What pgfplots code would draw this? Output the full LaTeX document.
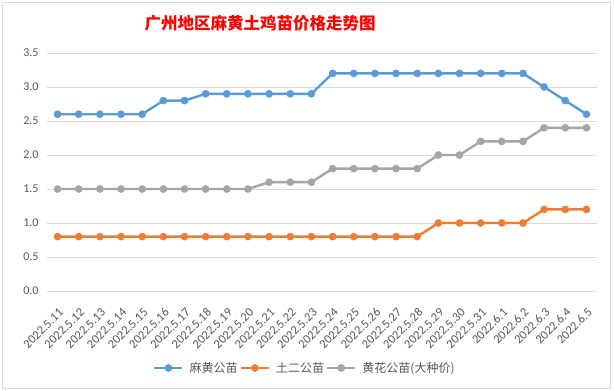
\documentclass[border=0pt]{standalone}
\usepackage{pgfplots}
\pgfplotsset{compat=1.18}
\usepackage{fontspec}
\setmainfont{Carlito}
\newfontfamily\cjk{Noto Sans CJK SC}
\definecolor{cblue}{HTML}{5B9BD5}
\definecolor{corange}{HTML}{ED7D31}
\definecolor{cgray}{HTML}{A5A5A5}
\definecolor{txt}{HTML}{595959}
\definecolor{gridc}{HTML}{D9D9D9}
\begin{document}
\begin{tikzpicture}[x=1pt,y=1pt]
\fill[white] (0,0) rectangle (614,391);
\draw[gridc] (2.5,2.5) rectangle (610.5,388.5);
\begin{axis}[
  at={(47pt,100pt)}, anchor=south west,
  scale only axis, width=550pt, height=238pt,
  xmin=-0.5, xmax=25.5, ymin=0, ymax=3.5,
  ytick={0,0.5,1,1.5,2,2.5,3,3.5},
  yticklabel style={/pgf/number format/.cd, fixed, fixed zerofill, precision=1, /tikz/.cd, text=txt, font=\fontsize{12}{14}\selectfont, xshift=-5pt},
  /pgf/number format/assume math mode=true,
  xtick={0,...,25},
  xticklabels={2022.5.11,2022.5.12,2022.5.13,2022.5.14,2022.5.15,2022.5.16,2022.5.17,2022.5.18,2022.5.19,2022.5.20,2022.5.21,2022.5.22,2022.5.23,2022.5.24,2022.5.25,2022.5.26,2022.5.27,2022.5.28,2022.5.29,2022.5.30,2022.5.31,2022.6.1,2022.6.2,2022.6.3,2022.6.4,2022.6.5},
  xticklabel style={xshift=6pt, yshift=-17pt, rotate=45, anchor=east, text=txt, font=\fontsize{12.5}{14}\selectfont},
  ymajorgrids, major grid style={gridc, line width=0.8pt},
  axis line style={draw=none},
  axis x line*=bottom,
  x axis line style={draw=gridc, line width=0.8pt},
  axis y line*=left,
  tick style={draw=none},
  legend columns=3,
  legend style={at={(0.469,-0.3235)}, anchor=center, draw=none, fill=none, font=\cjk\fontsize{12}{14}\selectfont, text=txt,
    /tikz/every odd column/.append style={column sep=4pt}},
  legend image code/.code={\draw[mark repeat=2, mark phase=2] plot coordinates {(0pt,0pt)(14pt,0pt)(28pt,0pt)};},
]
\addplot[cblue, line width=2.4pt, mark=*, mark size=3.6pt, mark options={solid, fill=cblue, draw=cblue, line width=0.4pt}] coordinates {
(0,2.6)(1,2.6)(2,2.6)(3,2.6)(4,2.6)(5,2.8)(6,2.8)(7,2.9)(8,2.9)(9,2.9)(10,2.9)(11,2.9)(12,2.9)
(13,3.2)(14,3.2)(15,3.2)(16,3.2)(17,3.2)(18,3.2)(19,3.2)(20,3.2)(21,3.2)(22,3.2)(23,3.0)(24,2.8)(25,2.6)};
\addlegendentry{麻黄公苗}
\addplot[corange, line width=2.4pt, mark=*, mark size=3.6pt, mark options={solid, fill=corange, draw=corange, line width=0.4pt}] coordinates {
(0,0.8)(1,0.8)(2,0.8)(3,0.8)(4,0.8)(5,0.8)(6,0.8)(7,0.8)(8,0.8)(9,0.8)(10,0.8)(11,0.8)(12,0.8)
(13,0.8)(14,0.8)(15,0.8)(16,0.8)(17,0.8)(18,1.0)(19,1.0)(20,1.0)(21,1.0)(22,1.0)(23,1.2)(24,1.2)(25,1.2)};
\addlegendentry{土二公苗}
\addplot[cgray, line width=2.4pt, mark=*, mark size=3.6pt, mark options={solid, fill=cgray, draw=cgray, line width=0.4pt}] coordinates {
(0,1.5)(1,1.5)(2,1.5)(3,1.5)(4,1.5)(5,1.5)(6,1.5)(7,1.5)(8,1.5)(9,1.5)(10,1.6)(11,1.6)(12,1.6)
(13,1.8)(14,1.8)(15,1.8)(16,1.8)(17,1.8)(18,2.0)(19,2.0)(20,2.2)(21,2.2)(22,2.2)(23,2.4)(24,2.4)(25,2.4)};
\addlegendentry{黄花公苗(大种价)}
\end{axis}
\node[text=red, font=\cjk\bfseries\fontsize{16.5}{20}\selectfont] at (260,368) {广州地区麻黄土鸡苗价格走势图};
\end{tikzpicture}
\end{document}
